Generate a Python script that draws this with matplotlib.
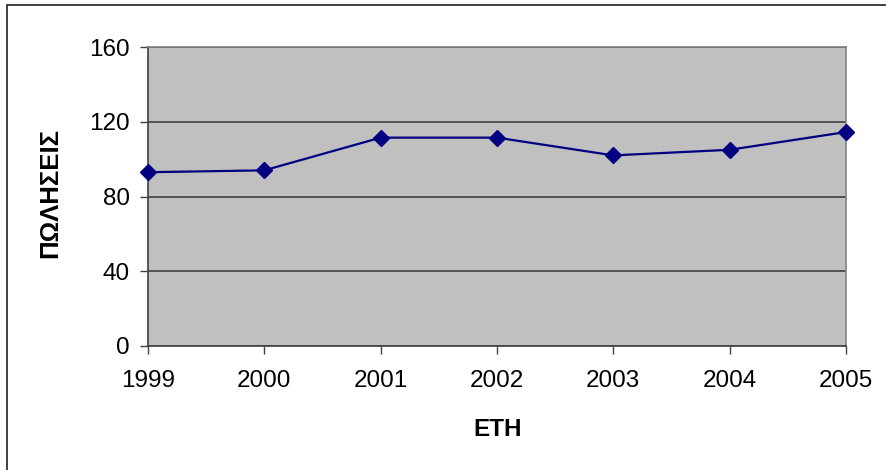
import matplotlib.pyplot as plt
from matplotlib.patches import Rectangle

years = ['1999', '2000', '2001', '2002', '2003', '2004', '2005']
sales = [93, 94, 111.5, 111.5, 102, 105, 114.5]
y_ticks = [0, 40, 80, 120, 160]

plt.rcParams['font.family'] = ['Liberation Sans', 'DejaVu Sans']

fig = plt.figure(figsize=(8.86, 4.70), dpi=100)
ax = fig.add_axes([148 / 886, 124 / 470, 698 / 886, 299 / 470])
ax.set_facecolor('#c0c0c0')

x = list(range(len(years)))
ax.plot(x, sales, color='#000080', linewidth=1.6, marker='D',
        markersize=8, markerfacecolor='#000080', markeredgecolor='#000080',
        zorder=3, clip_on=False)

ax.set_xlim(0, len(years) - 1)
ax.set_ylim(0, 160)
ax.set_xticks(x)
ax.set_xticklabels(years)
ax.set_yticks(y_ticks)
ax.yaxis.grid(True, color='#404040', linewidth=1.2)
ax.set_axisbelow(True)

ax.tick_params(axis='both', labelsize=17.5, direction='out', length=6,
               width=1, color='#404040')
ax.tick_params(axis='x', pad=11)
ax.tick_params(axis='y', pad=7)

for side in ['left', 'bottom']:
    ax.spines[side].set_color('#404040')
    ax.spines[side].set_linewidth(1.2)
for side in ['top', 'right']:
    ax.spines[side].set_color('#808080')
    ax.spines[side].set_linewidth(1.2)

fig.text(50 / 886, 1 - 193 / 470, 'ΠΩΛΗΣΕΙΣ', rotation=90, fontsize=18.5,
         fontweight='bold', ha='center', va='center')
fig.text(498 / 886, 1 - 429 / 470, 'ΕΤΗ', fontsize=17.5, fontweight='bold',
         ha='center', va='center')

# outer chart border (only left and top visible in the crop)
fig.patches.append(Rectangle((7 / 886, -0.1), 1.2, 1.1 - 5 / 470,
                             transform=fig.transFigure, fill=False,
                             edgecolor='#202020', linewidth=1.2))

plt.savefig('out.png', dpi=100)
